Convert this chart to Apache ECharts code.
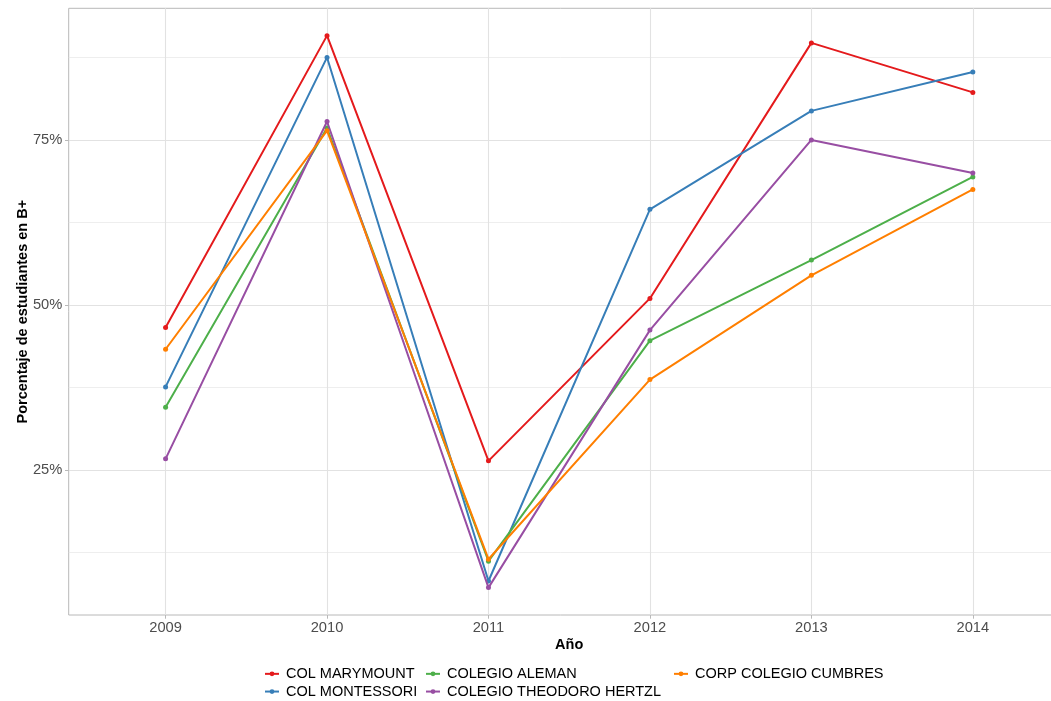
<!DOCTYPE html>
<html>
<head>
<meta charset="utf-8">
<script src="https://cdn.jsdelivr.net/npm/echarts@6/dist/echarts.min.js"></script>
<style>
html,body{margin:0;padding:0;background:#fff;}
#chart{width:1051px;height:701px;}
</style>
</head>
<body>
<div id="chart"></div>
<script>
// Data
const years = [2009, 2010, 2011, 2012, 2013, 2014];
const seriesNames = ['COL MARYMOUNT', 'COL MONTESSORI', 'COLEGIO ALEMAN', 'COLEGIO THEODORO HERTZL', 'CORP COLEGIO CUMBRES'];
const marymount = [46.6, 90.8, 26.4, 51.0, 89.7, 82.2];
const montessori = [37.6, 87.5, 8.2, 64.5, 79.4, 85.3];
const aleman = [34.5, 76.8, 11.2, 44.6, 56.8, 69.4];
const hertzl = [26.7, 77.8, 7.2, 46.2, 75.0, 70.0];
const cumbres = [43.3, 76.4, 11.5, 38.7, 54.5, 67.5];
const yMajorTicks = [25, 50, 75];
const yMinorTicks = [12.5, 37.5, 62.5, 87.5];
const colors = ['#E41A1C', '#377EB8', '#4DAF4A', '#984EA3', '#FF7F00'];

const seriesValues = [marymount, montessori, aleman, hertzl, cumbres];

const FONT = '"Liberation Sans", Arial, sans-serif';
const chart = echarts.init(document.getElementById('chart'), null, {renderer: 'canvas'});

const series = seriesNames.map((name, i) => ({
  name: name,
  type: 'line',
  xAxisIndex: 0,
  yAxisIndex: 0,
  data: years.map((y, j) => [y, seriesValues[i][j]]),
  symbol: 'circle',
  symbolSize: 5,
  showSymbol: true,
  itemStyle: {color: colors[i]},
  lineStyle: {color: colors[i], width: 2},
  emphasis: {disabled: true},
  z: 10 + i
}));

const legendCommon = {
  orient: 'vertical',
  top: 665,
  padding: 0,
  itemGap: 0,
  itemWidth: 14,
  itemHeight: 6,
  selectedMode: false,
  textStyle: {fontFamily: FONT, fontSize: 14.5, color: '#000', lineHeight: 17.7, padding: [0, 0, 0, 2]}
};

const option = {
  animation: false,
  backgroundColor: '#fff',
  color: colors,
  grid: {
    left: 68.7, top: 8.3, width: 1001, height: 606.7,
    outerBoundsMode: 'none',
    show: true, borderColor: '#B8B8B8', borderWidth: 1, backgroundColor: 'transparent'
  },
  legend: [
    Object.assign({}, legendCommon, {left: 264, data: [seriesNames[0], seriesNames[1]]}),
    Object.assign({}, legendCommon, {left: 425, data: [seriesNames[2], seriesNames[3]]}),
    Object.assign({}, legendCommon, {left: 673, data: [seriesNames[4]]})
  ],
  xAxis: [{
    type: 'value',
    min: 2008.4, max: 2014.6,
    name: 'Año',
    nameLocation: 'middle',
    nameGap: 22,
    nameMoveOverlap: false,
    nameTextStyle: {fontFamily: FONT, fontSize: 14.5, fontWeight: 'bold', color: '#000'},
    axisLine: {show: false},
    axisTick: {show: true, length: 3.7, customValues: years, lineStyle: {color: '#B8B8B8', width: 1}},
    axisLabel: {customValues: years, margin: 5.5, formatter: v => String(v), fontFamily: FONT, fontSize: 14.7, color: '#4D4D4D'},
    splitLine: {show: true, lineStyle: {color: '#E2E2E2', width: 1.1}},
    minorSplitLine: {show: false}
  }],
  yAxis: [{
    type: 'value',
    min: 3.05, max: 94.94,
    name: 'Porcentaje de estudiantes en B+',
    nameLocation: 'middle',
    nameGap: 38,
    nameMoveOverlap: false,
    nameTextStyle: {fontFamily: FONT, fontSize: 14.5, fontWeight: 'bold', color: '#000'},
    axisLine: {show: false},
    axisTick: {show: true, length: 3.7, customValues: yMajorTicks, lineStyle: {color: '#B8B8B8', width: 1}},
    axisLabel: {customValues: yMajorTicks, margin: 6.4, formatter: v => v + '%', fontFamily: FONT, fontSize: 14.7, color: '#4D4D4D'},
    splitLine: {show: true, lineStyle: {color: '#E2E2E2', width: 1.1}}
  }, {
    type: 'value',
    position: 'left',
    min: 3.05, max: 94.94,
    axisLine: {show: false},
    axisTick: {show: false, customValues: yMinorTicks},
    axisLabel: {show: false, customValues: yMinorTicks},
    splitLine: {show: true, lineStyle: {color: '#E6E6E6', width: 0.7}}
  }],
  series: series
};
chart.setOption(option);
</script>
</body>
</html>
